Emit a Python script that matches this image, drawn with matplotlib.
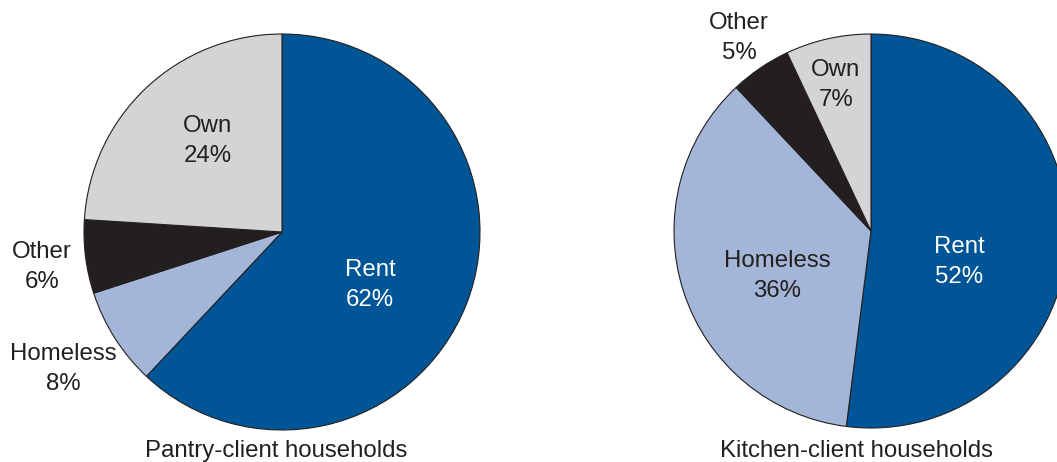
import matplotlib
matplotlib.use("Agg")
import matplotlib.pyplot as plt

# Data
categories = ["Rent", "Homeless", "Other", "Own"]
pantry_values = [62, 8, 6, 24]
kitchen_values = [52, 36, 5, 7]
titles = ["Pantry-client households", "Kitchen-client households"]

colors = ["#005597", "#A3B6D8", "#231F20", "#D4D4D6"]
text_colors = {"Rent": "white", "Homeless": "#231F20", "Other": "#231F20", "Own": "#231F20"}

W, H = 1057, 462
plt.rcParams['font.family'] = ['Liberation Sans', 'DejaVu Sans']
fig = plt.figure(figsize=(W / 100, H / 100), dpi=100)
ax = fig.add_axes([0, 0, 1, 1])

def py(y):
    return H - y

pies = [
    dict(values=pantry_values, center=(282, 232), radius=198,
         label_pos={"Rent": (370, 285), "Homeless": (63, 369), "Other": (42, 267), "Own": (208, 141)},
         title_pos=(276, 451)),
    dict(values=kitchen_values, center=(871, 231), radius=197,
         label_pos={"Rent": (959, 262), "Homeless": (777, 276), "Other": (739, 38), "Own": (836, 85)},
         title_pos=(856, 451)),
]

for p, title in zip(pies, titles):
    cx, cy = p["center"]
    ax.pie(p["values"], colors=colors, startangle=90, counterclock=False,
           center=(cx, py(cy)), radius=p["radius"],
           wedgeprops=dict(edgecolor="#231F20", linewidth=0.8), frame=True)
    for cat, val in zip(categories, p["values"]):
        lx, ly = p["label_pos"][cat]
        ax.text(lx, py(ly), f"{cat}\n{val}%", ha="center", va="center",
                fontsize=17.3, color=text_colors[cat], linespacing=1.45)
    tx, ty = p["title_pos"]
    ax.text(tx, py(ty), title, ha="center", va="center", fontsize=17.3, color="#231F20")

ax.set_xlim(0, W)
ax.set_ylim(0, H)
ax.set_aspect('equal')
ax.axis('off')
fig.savefig("out.png", dpi=100)
